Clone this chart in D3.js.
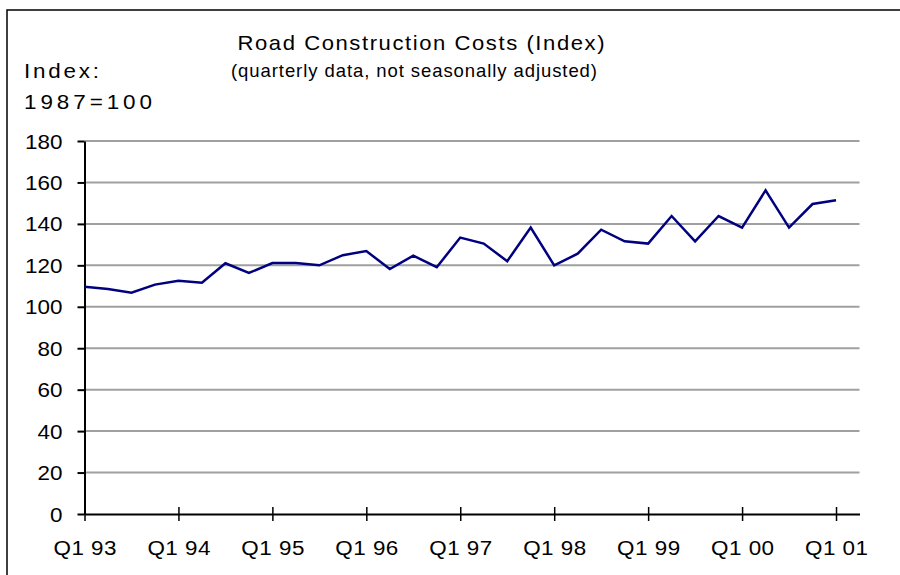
<!DOCTYPE html>
<html>
<head>
<meta charset="utf-8">
<script src="https://cdn.jsdelivr.net/npm/d3@7"></script>
<style>
  html, body { margin: 0; padding: 0; background: #fff; }
  svg { display: block; }
  text { font-family: "Liberation Sans", Arial, sans-serif; fill: #000; }
</style>
</head>
<body>
<svg id="chart" width="900" height="575"></svg>
<script>
// Quarterly road construction cost index, Q1 1993 – Q1 2001 (1987 = 100)
const quarters = [
  "Q1 93","Q2 93","Q3 93","Q4 93",
  "Q1 94","Q2 94","Q3 94","Q4 94",
  "Q1 95","Q2 95","Q3 95","Q4 95",
  "Q1 96","Q2 96","Q3 96","Q4 96",
  "Q1 97","Q2 97","Q3 97","Q4 97",
  "Q1 98","Q2 98","Q3 98","Q4 98",
  "Q1 99","Q2 99","Q3 99","Q4 99",
  "Q1 00","Q2 00","Q3 00","Q4 00",
  "Q1 01"
];
const indexValues = [
  109.7, 108.6, 106.8, 110.7,
  112.5, 111.6, 121.0, 116.3,
  121.1, 121.1, 120.0, 124.9,
  126.9, 118.2, 124.7, 119.1,
  133.4, 130.5, 122.0, 138.2,
  120.0, 125.6, 137.2, 131.6,
  130.5, 143.8, 131.6, 143.8,
  138.2, 156.2, 138.2, 149.6,
  151.4
];
const xTickLabels = ["Q1 93","Q1 94","Q1 95","Q1 96","Q1 97","Q1 98","Q1 99","Q1 00","Q1 01"];
const yTicks = [0, 20, 40, 60, 80, 100, 120, 140, 160, 180];

const svg = d3.select("#chart");
const plot = { left: 84.5, right: 859.5, top: 141, bottom: 514 };
const stretch = 1.15;   // axis glyphs are drawn slightly wide

// Outer frame
svg.append("rect")
  .attr("x", 7).attr("y", 10).attr("width", 920).attr("height", 600)
  .attr("fill", "none").attr("stroke", "#000").attr("stroke-width", 1.5);

// One slot per quarter plus one trailing slot after the last point
const x = d3.scaleLinear().domain([0, quarters.length]).range([plot.left, plot.right]);
const y = d3.scaleLinear().domain([0, 180]).range([plot.bottom, plot.top]);

// Free-standing label, widened horizontally and spread to a given width
function label(px, py, str, size, anchor, width, sx) {
  const g = svg.append("g")
    .attr("transform", `translate(${px},${py}) scale(${sx},1)`);
  const t = g.append("text")
    .attr("text-anchor", anchor)
    .style("font-size", size + "px")
    .text(str);
  if (width) t.attr("textLength", width / sx).attr("lengthAdjust", "spacing");
  return t;
}

// Horizontal gridlines
svg.append("g")
  .selectAll("line")
  .data(yTicks.filter(d => d > 0))
  .join("line")
  .attr("x1", plot.left).attr("x2", plot.right)
  .attr("y1", d => y(d)).attr("y2", d => y(d))
  .attr("stroke", "#a0a0a0").attr("stroke-width", 2);

// Y axis
const yAxis = svg.append("g")
  .attr("transform", `translate(${plot.left},0)`)
  .call(d3.axisLeft(y).tickValues(yTicks).tickSize(7).tickPadding(15).tickSizeOuter(0));
yAxis.attr("font-family", null).attr("font-size", null);
yAxis.select(".domain").attr("stroke", "#000").attr("stroke-width", 2);
yAxis.selectAll(".tick line").attr("stroke", "#000").attr("stroke-width", 2);
yAxis.selectAll(".tick text")
  .style("font-size", "19.5px")
  .attr("x", -22 / stretch)
  .attr("dy", "0.36em")
  .attr("transform", `scale(${stretch},1)`);

// X axis: ticks cross the baseline
const xTickIdx = xTickLabels.map(l => quarters.indexOf(l));
const xAxis = svg.append("g")
  .attr("transform", `translate(0,${plot.bottom})`)
  .call(d3.axisBottom(x).tickValues(xTickIdx)
    .tickFormat(i => quarters[i]).tickSize(7).tickPadding(20).tickSizeOuter(0));
xAxis.attr("font-family", null).attr("font-size", null);
xAxis.select(".domain").attr("stroke", "#000").attr("stroke-width", 2);
xAxis.selectAll(".tick line").attr("stroke", "#000").attr("stroke-width", 1.5)
  .attr("y1", -7).attr("y2", 7);
xAxis.selectAll(".tick text")
  .style("font-size", "19.5px")
  .attr("transform", `scale(${stretch},1)`)
  .each(function () {
    const w = this.getComputedTextLength();
    d3.select(this).attr("textLength", w + 2 / stretch).attr("lengthAdjust", "spacing");
  });

// Index line
const line = d3.line()
  .x((d, i) => x(i))
  .y(d => y(d));
svg.append("path")
  .datum(indexValues)
  .attr("d", line)
  .attr("fill", "none")
  .attr("stroke", "#000080")
  .attr("stroke-width", 2.5)
  .attr("stroke-linejoin", "miter");

// Titles and unit note
label(421, 50, "Road Construction Costs (Index)", 21, "middle", 367, 1.05);
label(414, 77, "(quarterly data, not seasonally adjusted)", 18.5, "middle", 366, 1.0);
label(24, 78, "Index:", 19.5, "start", 75, stretch);
label(24, 109, "1987=100", 19.5, "start", 128, stretch);
</script>
</body>
</html>
